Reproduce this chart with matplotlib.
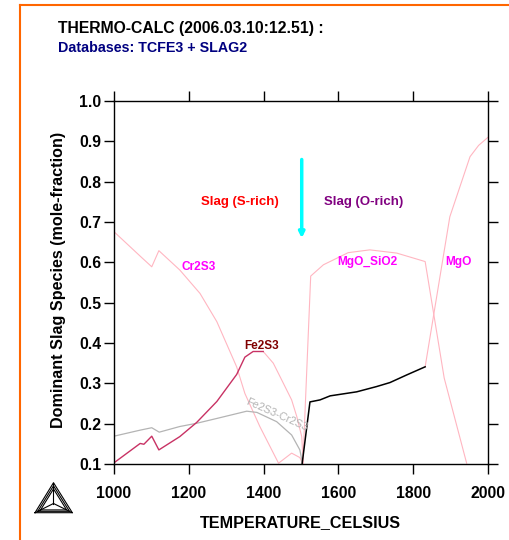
import matplotlib
matplotlib.use("Agg")
import matplotlib.pyplot as plt
from matplotlib.lines import Line2D

plt.rcParams['font.family'] = ['Liberation Sans', 'DejaVu Sans']
plt.rcParams['font.weight'] = 'bold'

# data
cr2s3_t = [1000, 1074, 1101, 1120, 1176, 1230, 1275, 1328, 1350, 1390, 1440, 1475, 1497, 1505]
cr2s3_y = [0.676, 0.612, 0.589, 0.629, 0.581, 0.523, 0.453, 0.341, 0.275, 0.193, 0.102, 0.127, 0.116, 0.100]

fe2s3_t = [1000, 1070, 1080, 1101, 1120, 1176, 1221, 1275, 1328, 1350, 1372, 1399]
fe2s3_y = [0.103, 0.151, 0.149, 0.169, 0.135, 0.168, 0.203, 0.255, 0.322, 0.365, 0.379, 0.379]

fe2s3_tail_t = [1399, 1426, 1453, 1475, 1489, 1502, 1506]
fe2s3_tail_y = [0.379, 0.350, 0.300, 0.259, 0.217, 0.168, 0.102]

mix_t = [1000, 1070, 1101, 1121, 1176, 1221, 1275, 1355, 1382, 1435, 1475, 1497, 1504]
mix_y = [0.169, 0.184, 0.190, 0.179, 0.193, 0.201, 0.213, 0.231, 0.228, 0.205, 0.172, 0.135, 0.102]

oxide_t = [1503, 1524, 1551, 1578, 1649, 1702, 1738, 1783, 1832]
oxide_y = [0.100, 0.254, 0.259, 0.269, 0.279, 0.292, 0.302, 0.321, 0.341]

mgosio2_t = [1505, 1526, 1560, 1626, 1684, 1756, 1832, 1883, 1943]
mgosio2_y = [0.100, 0.566, 0.594, 0.624, 0.631, 0.623, 0.602, 0.313, 0.102]

mgo_t = [1832, 1898, 1952, 1975, 2000]
mgo_y = [0.341, 0.713, 0.862, 0.890, 0.910]

xticks = [1000, 1200, 1400, 1600, 1800, 2000]
yticks = [0.1, 0.2, 0.3, 0.4, 0.5, 0.6, 0.7, 0.8, 0.9, 1.0]

pink = '#FFB6C1'

fig = plt.figure(figsize=(5.1, 5.4), dpi=100)
ax = fig.add_axes([0.2235, 0.1407, 0.7333, 0.6722])

ax.plot(cr2s3_t, cr2s3_y, color=pink, lw=0.8)
ax.plot(fe2s3_tail_t, fe2s3_tail_y, color=pink, lw=0.8)
ax.plot(mgosio2_t, mgosio2_y, color=pink, lw=0.8)
ax.plot(mgo_t, mgo_y, color=pink, lw=0.8)
ax.plot(mix_t, mix_y, color='#B4B4B4', lw=0.9)
ax.plot(fe2s3_t, fe2s3_y, color='#C83264', lw=1.0)
ax.plot(oxide_t, oxide_y, color='black', lw=1.1)

# arrow marking the S-rich / O-rich boundary
ax.annotate('', xy=(1502, 0.66), xytext=(1502, 0.855),
            arrowprops=dict(arrowstyle='-|>', color='#00FFFF', lw=2.5,
                            mutation_scale=8, shrinkA=0, shrinkB=0))

ax.text(1337, 0.75, 'Slag (S-rich)', color='#FF0000', fontsize=9.5, ha='center', va='center')
ax.text(1667, 0.75, 'Slag (O-rich)', color='#800080', fontsize=9.5, ha='center', va='center')
ax.text(1225, 0.588, 'Cr2S3', color='#FF00FF', fontsize=8.6, ha='center', va='center')
ax.text(1677, 0.600, 'MgO_SiO2', color='#FF00FF', fontsize=8.6, ha='center', va='center')
ax.text(1922, 0.600, 'MgO', color='#FF00FF', fontsize=8.6, ha='center', va='center')
ax.text(1395, 0.392, 'Fe2S3', color='#800000', fontsize=8.5, ha='center', va='center')
ax.text(1434, 0.222, 'Fe2S3-Cr2S3', color='#B4B4B4', fontsize=7.8, ha='center', va='center',
        rotation=-24, fontweight='normal')

ax.set_xlim(1000, 2000)
ax.set_ylim(0.1, 1.0)
ax.set_xticks(xticks)
ax.set_yticks(yticks)
ax.set_yticklabels([f'{v:.1f}' for v in yticks])
ax.tick_params(direction='out', length=7.5, width=1, labelsize=11.3,
               top=True, right=True)
ax.tick_params(axis='x', pad=8.5)
ax.tick_params(axis='y', pad=1.5)
for s in ax.spines.values():
    s.set_linewidth(1)

fig.text(0.113, 0.948, 'THERMO-CALC (2006.03.10:12.51) :', fontsize=11.3, color='black',
         ha='left', va='center')
fig.text(0.113, 0.912, 'Databases: TCFE3 + SLAG2', fontsize=10.3, color='#000080',
         ha='left', va='center')
fig.text(0.59, 0.032, 'TEMPERATURE_CELSIUS', fontsize=11.6, ha='center', va='center')
fig.text(0.114, 0.4815, 'Dominant Slag Species (mole-fraction)', fontsize=11.6,
         rotation=90, ha='center', va='center')

# orange frame
fig.add_artist(Line2D([20 / 510, 1.0], [1 - 4.5 / 540] * 2, color='#FF6600', lw=1.5,
                      transform=fig.transFigure))
fig.add_artist(Line2D([20 / 510] * 2, [0.0, 1 - 4.5 / 540], color='#FF6600', lw=1.5,
                      transform=fig.transFigure))

# Thermo-Calc triangle logo
def px(x, y):
    return x / 510, 1 - y / 540

for scale in (1.0, 0.85, 0.7):
    cx, cy = 53.5, 503.5
    pts = [(35, 512.7), (72.3, 512.7), (53.5, 482.7), (35, 512.7)]
    pts = [(cx + (x - cx) * scale, cy + (y - cy) * scale) for x, y in pts]
    xs, ys = zip(*[px(x, y) for x, y in pts])
    fig.add_artist(Line2D(xs, ys, color='black', lw=0.8, transform=fig.transFigure))
for vx, vy in [(35, 512.7), (72.3, 512.7), (53.5, 482.7)]:
    xs, ys = zip(px(vx, vy), px(53.5, 503.5))
    fig.add_artist(Line2D(xs, ys, color='black', lw=0.8, transform=fig.transFigure))

fig.savefig('out.png', dpi=100)
